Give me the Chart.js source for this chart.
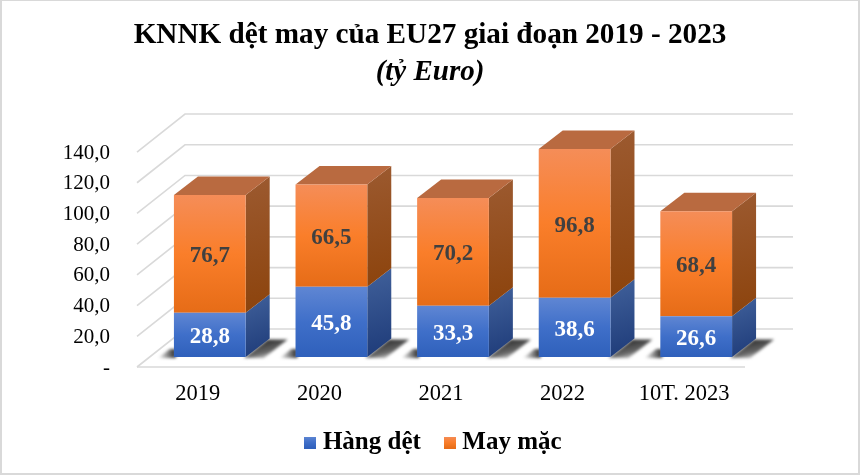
<!DOCTYPE html>
<html>
<head>
<meta charset="utf-8">
<style>
  body { margin: 0; background: #fff; }
  #frame { position: absolute; left: 0; top: 0; width: 860px; height: 475px; box-sizing: border-box;
           border: 2px solid #d9d9d9; border-top-width: 1px; pointer-events: none; }
  canvas { display: block; }
</style>
<script src="https://cdn.jsdelivr.net/npm/chart.js@4"></script>
</head>
<body>
<canvas id="myChart" width="860" height="475"></canvas>
<div id="frame"></div>
<script>
const categories = ['2019', '2020', '2021', '2022', '10T. 2023'];
const hangDet = [28.8, 45.8, 33.3, 38.6, 26.6];
const mayMac = [76.7, 66.5, 70.2, 96.8, 68.4];
const tickStep = 20;
const tickMax = 140;

const serif = '"Liberation Serif", "Times New Roman", serif';
const blue = { top: '#5f86d3', mid: '#3f6fc9', bottom: '#2f60bb', sideTop: '#41619b', sideBottom: '#1d3a78', text: '#ffffff' };
const orange = { top: '#f58d58', mid: '#fa7e2a', bottom: '#e66c17', sideTop: '#9c5a30', sideBottom: '#8c430c', roof: '#b96a40', text: '#404040' };

// depth of the fake 3D box, in pixels
const wallDX = 48, wallDY = 38;   // front floor edge -> back wall
const planeDX = 12, planeDY = 10; // front floor edge -> plane of the bars
const barDX = 24, barDY = 18.5;   // front of a bar -> back of a bar

function frontGradient(c, y1, y2, col) {
    const g = c.createLinearGradient(0, y1, 0, y2);
    g.addColorStop(0, col.top);
    g.addColorStop(0.5, col.mid);
    g.addColorStop(1, col.bottom);
    return g;
}

function faceColor(ctx, col, lows) {
    const chart = ctx.chart;
    if (!chart.chartArea) return col.mid;
    const i = ctx.dataIndex;
    const lo = lows ? lows[i] : 0;
    const hi = lo + ctx.dataset.data[i];
    const y = chart.scales.y;
    return frontGradient(chart.ctx, y.getPixelForValue(hi), y.getPixelForValue(lo), col);
}

function legendBox(col) {
    const box = document.createElement('canvas');
    box.width = 12;
    box.height = 12;
    const c = box.getContext('2d');
    c.fillStyle = frontGradient(c, 0, 12, col);
    c.fillRect(0, 0, 12, 12);
    return box;
}

function poly(c, pts, fill) {
    c.fillStyle = fill;
    c.beginPath();
    pts.forEach((p, i) => i ? c.lineTo(p[0], p[1]) : c.moveTo(p[0], p[1]));
    c.closePath();
    c.fill();
}

const box3d = {
    id: 'box3d',
    afterLayout(chart) {
        // legend sits a little higher and to the right of where the layout puts it
        const l = chart.legend;
        l.top -= 8;
        l.bottom -= 8;
        l.left += 6;
        l.right += 6;
    },
    beforeDatasetsDraw(chart) {
        const c = chart.ctx, y = chart.scales.y, area = chart.chartArea;
        const left = area.left - planeDX;
        const right = area.right - planeDX;

        // walls and floor
        c.save();
        c.strokeStyle = '#d9d9d9';
        c.lineWidth = 1.6;
        y.ticks.forEach(t => {
            const py = y.getPixelForValue(t.value) + planeDY;
            c.beginPath();
            c.moveTo(left, py);
            c.lineTo(left + wallDX, py - wallDY);
            c.lineTo(right + wallDX, py - wallDY);
            c.stroke();
        });
        const py0 = y.getPixelForValue(0) + planeDY;
        c.beginPath();
        c.moveTo(left, py0);
        c.lineTo(right, py0);
        c.stroke();
        c.restore();

        const low = chart.getDatasetMeta(0).data;
        const high = chart.getDatasetMeta(1).data;

        // floor shadows
        low.forEach(bar => {
            const l = bar.x - bar.width / 2, r = bar.x + bar.width / 2, b = bar.base;
            const backX = r + barDX, backY = b - barDY;
            c.save();
            c.filter = 'blur(1.5px)';
            // right of the bar, fading towards the viewer
            const gr = c.createLinearGradient(backX, backY, backX + 5, b + 1);
            gr.addColorStop(0, 'rgba(35,35,35,0.95)');
            gr.addColorStop(0.6, 'rgba(50,50,50,0.75)');
            gr.addColorStop(1, 'rgba(110,110,110,0.25)');
            poly(c, [[r - 2, b + 1], [backX - 2, backY + 1], [backX + 18, backY + 1], [r + 18, b + 1]], gr);
            // left of the bar, fading away from it
            const gl = c.createLinearGradient(l - 16, 0, l, 0);
            gl.addColorStop(0, 'rgba(40,40,40,0)');
            gl.addColorStop(1, 'rgba(40,40,40,0.9)');
            poly(c, [[l - 16, b + 1], [l - 4, b - 8], [l + 2, b - 8], [l + 2, b + 1]], gl);
            c.restore();
        });

        // side and roof of every stacked segment
        [[low, blue], [high, orange]].forEach(([bars, col]) => {
            bars.forEach(bar => {
                const r = bar.x + bar.width / 2;
                const g = c.createLinearGradient(r, bar.y - barDY, r + barDX, bar.base);
                g.addColorStop(0, col.sideTop);
                g.addColorStop(1, col.sideBottom);
                poly(c, [[r, bar.y], [r + barDX, bar.y - barDY], [r + barDX, bar.base - barDY], [r, bar.base]], g);
            });
        });
        high.forEach(bar => {
            const l = bar.x - bar.width / 2, r = bar.x + bar.width / 2;
            poly(c, [[l, bar.y], [l + barDX, bar.y - barDY], [r + barDX, bar.y - barDY], [r, bar.y]], orange.roof);
        });
    },
    afterDatasetsDraw(chart) {
        const c = chart.ctx;
        c.save();
        c.font = 'bold 23px ' + serif;
        c.textAlign = 'center';
        c.textBaseline = 'middle';
        chart.data.datasets.forEach((ds, d) => {
            chart.getDatasetMeta(d).data.forEach((bar, i) => {
                c.fillStyle = d === 0 ? blue.text : orange.text;
                c.fillText(ds.data[i].toFixed(1).replace('.', ','), bar.x, (bar.y + bar.base) / 2 + 2.5);
            });
        });
        c.restore();
    }
};

new Chart(document.getElementById('myChart'), {
    type: 'bar',
    data: {
        labels: categories,
        datasets: [
            { label: 'Hàng dệt', data: hangDet, backgroundColor: ctx => faceColor(ctx, blue) },
            { label: 'May mặc', data: mayMac, backgroundColor: ctx => faceColor(ctx, orange, hangDet) }
        ]
    },
    options: {
        responsive: false,
        animation: false,
        barPercentage: 0.59,
        categoryPercentage: 1,
        layout: { padding: { bottom: 2 } },
        scales: {
            x: {
                stacked: true,
                grid: { display: false },
                border: { display: false },
                afterFit: s => { s.height = 52; },
                ticks: { padding: 16, labelOffset: -planeDX, color: '#000', font: { family: serif, size: 22.5 }, maxRotation: 0, autoSkip: false }
            },
            y: {
                stacked: true,
                min: 0,
                max: tickMax,
                grid: { display: false },
                border: { display: false },
                afterFit: s => { s.width = 149; },
                ticks: {
                    stepSize: tickStep,
                    padding: 31,
                    labelOffset: planeDY + 1,
                    color: '#000',
                    font: { family: serif, size: 21 },
                    callback: v => v === 0 ? '-' : v.toFixed(1).replace('.', ',')
                }
            },
            // empty axis, only keeps the room right of the bars
            spacer: {
                type: 'linear',
                position: 'right',
                grid: { display: false },
                border: { display: false },
                ticks: { display: false },
                afterFit: s => { s.width = 103; }
            }
        },
        plugins: {
            title: {
                display: true,
                text: 'KNNK dệt may của EU27 giai đoạn 2019 - 2023',
                color: '#000',
                font: { family: serif, size: 29.2, weight: 'bold' },
                padding: { top: 17.6, bottom: 2 }
            },
            subtitle: {
                display: true,
                text: '(tỷ Euro)',
                color: '#000',
                font: { family: serif, size: 29, weight: 'bold', style: 'italic' },
                padding: { top: 0, bottom: 52.6 }
            },
            legend: {
                position: 'bottom',
                labels: {
                    usePointStyle: true,
                    boxWidth: 0.01,
                    boxHeight: 12,
                    padding: 29,
                    color: '#000',
                    font: { family: serif, size: 25, weight: 'bold' },
                    generateLabels: () => [
                        { text: 'Hàng dệt', pointStyle: legendBox(blue), datasetIndex: 0, lineWidth: 0 },
                        { text: 'May mặc', pointStyle: legendBox(orange), datasetIndex: 1, lineWidth: 0 }
                    ]
                }
            },
            tooltip: { enabled: false }
        }
    },
    plugins: [box3d]
});
</script>
</body>
</html>
